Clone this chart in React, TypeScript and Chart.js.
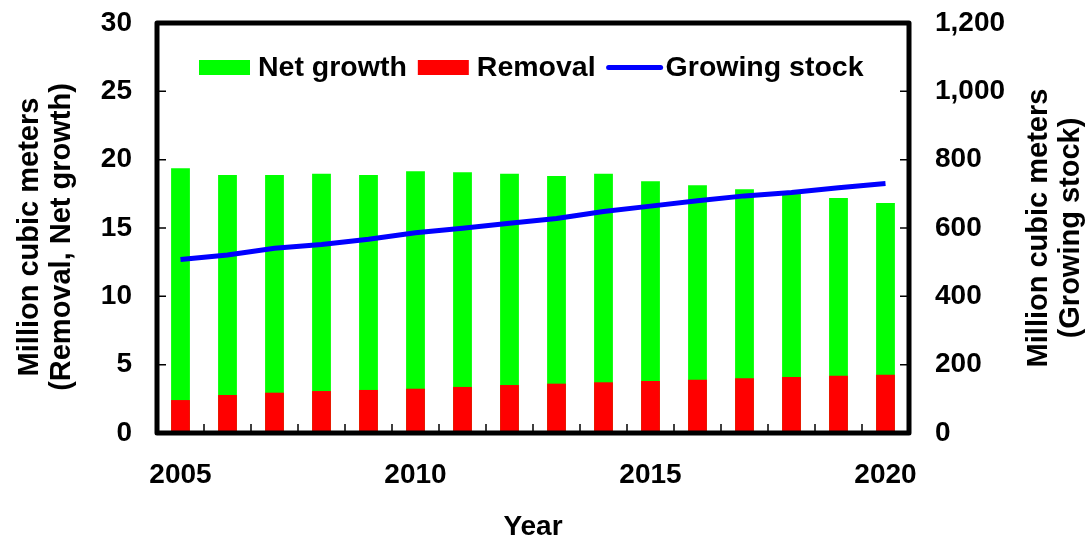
import { useEffect, useRef } from 'react';
import { Chart, registerables } from 'chart.js';

Chart.register(...registerables);

const years = ['2005', '2006', '2007', '2008', '2009', '2010', '2011', '2012', '2013', '2014', '2015', '2016', '2017', '2018', '2019', '2020'];
const labeledYears = ['2005', '2010', '2015', '2020'];
const netGrowth = [19.37, 18.88, 18.88, 18.97, 18.88, 19.15, 19.08, 18.97, 18.8, 18.97, 18.42, 18.13, 17.83, 17.58, 17.19, 16.83];
const removal = [2.41, 2.78, 2.95, 3.07, 3.15, 3.24, 3.37, 3.51, 3.61, 3.71, 3.8, 3.9, 4.0, 4.1, 4.19, 4.27];
const growingStock = [508, 521, 541, 552, 567, 586, 599, 614, 628, 648, 664, 680, 694, 704, 718, 730];
const leftMax = 30;
const leftStep = 5;
const rightMax = 1200;
const rightStep = 200;
const leftTitle = ['Million cubic meters', '(Removal, Net growth)'];
const rightTitle = ['Million cubic meters', '(Growing stock)'];
const xTitle = 'Year';

const FONT = "'Liberation Sans', Arial, sans-serif";

const decorPlugin = {
  id: 'decor',
  afterDatasetsDraw(chart: any) {
    const { ctx, chartArea, scales } = chart;
    const { left, right, top, bottom } = chartArea;
    ctx.save();
    // inward tick marks
    ctx.strokeStyle = '#000';
    ctx.lineWidth = 1.5;
    ctx.beginPath();
    scales.y.ticks.forEach((t: any) => {
      const py = scales.y.getPixelForValue(t.value);
      ctx.moveTo(left, py);
      ctx.lineTo(left + 9, py);
    });
    scales.y1.ticks.forEach((t: any) => {
      const py = scales.y1.getPixelForValue(t.value);
      ctx.moveTo(right, py);
      ctx.lineTo(right - 9, py);
    });
    const n = chart.data.labels.length;
    for (let i = 1; i < n; i++) {
      const px = left + ((right - left) * i) / n;
      ctx.moveTo(px, bottom);
      ctx.lineTo(px, bottom - 9);
    }
    ctx.stroke();
    // frame
    ctx.lineWidth = 5;
    ctx.lineJoin = 'round';
    ctx.strokeRect(left, top, right - left, bottom - top);

    // legend
    const cy = 67.5;
    let x = 199;
    ctx.font = `bold 28.5px ${FONT}`;
    ctx.textBaseline = 'middle';
    ctx.textAlign = 'left';
    chart.data.datasets.forEach((ds: any) => {
      if (ds.type === 'line') {
        ctx.strokeStyle = ds.borderColor;
        ctx.lineWidth = 5;
        ctx.lineCap = 'round';
        ctx.beginPath();
        ctx.moveTo(x + 2, cy);
        ctx.lineTo(x + 54, cy);
        ctx.stroke();
        x += 59;
      } else {
        ctx.fillStyle = ds.backgroundColor;
        ctx.fillRect(x, cy - 7.5, 51, 15);
        x += 59;
      }
      ctx.fillStyle = '#000';
      ctx.fillText(ds.label, x, cy + 1);
      x += ctx.measureText(ds.label).width + 11;
    });

    // axis titles (rotated, reading bottom to top)
    ctx.font = `bold 29px ${FONT}`;
    ctx.fillStyle = '#000';
    ctx.textBaseline = 'middle';
    ctx.textAlign = 'center';
    const lh = 32;
    ctx.save();
    ctx.translate(30, 237);
    ctx.rotate(-Math.PI / 2);
    leftTitle.forEach((s, i) => ctx.fillText(s, 0, i * lh));
    ctx.restore();
    ctx.save();
    ctx.translate(1039, 228);
    ctx.rotate(-Math.PI / 2);
    rightTitle.forEach((s, i) => ctx.fillText(s, 0, i * lh));
    ctx.restore();
    ctx.restore();
  },
};

export default function App() {
  const ref = useRef<HTMLCanvasElement>(null);
  useEffect(() => {
    if (!ref.current) return;
    const tickFont = { family: FONT, size: 28, weight: 'bold' as const };
    const chart = new Chart(ref.current, {
      type: 'bar',
      data: {
        labels: years,
        datasets: [
          {
            type: 'bar',
            label: 'Net growth',
            data: netGrowth,
            backgroundColor: '#00ff00',
            borderWidth: 0,
            yAxisID: 'y',
            order: 2,
            barPercentage: 0.4,
            categoryPercentage: 1,
          },
          {
            type: 'bar',
            label: 'Removal',
            data: removal,
            backgroundColor: '#ff0000',
            borderWidth: 0,
            yAxisID: 'y',
            order: 1,
            barPercentage: 0.4,
            categoryPercentage: 1,
          },
          {
            type: 'line',
            label: 'Growing stock',
            data: growingStock,
            borderColor: '#0000ff',
            backgroundColor: '#0000ff',
            borderWidth: 5,
            pointRadius: 0,
            tension: 0,
            yAxisID: 'y1',
            order: 0,
          } as any,
        ],
      },
      plugins: [decorPlugin],
      options: {
        responsive: false,
        devicePixelRatio: 1,
        animation: false,
        layout: { padding: { top: 23, left: 0, right: 0, bottom: 0 } },
        plugins: { legend: { display: false }, tooltip: { enabled: false } },
        scales: {
          x: {
            stacked: true,
            offset: true,
            grid: { display: false, drawTicks: false },
            border: { display: false },
            ticks: {
              autoSkip: false,
              maxRotation: 0,
              padding: 25,
              color: '#000',
              font: tickFont,
              callback: (_v: any, i: number) => (labeledYears.includes(years[i]) ? years[i] : ''),
            },
            title: { display: true, text: xTitle, color: '#000', font: { family: FONT, size: 28, weight: 'bold' }, padding: { top: 0, bottom: -3 } },
            afterFit: (s: any) => {
              s.height = 108;
              s.paddingLeft = 0;
              s.paddingRight = 0;
            },
          },
          y: {
            position: 'left',
            min: 0,
            max: leftMax,
            grid: { display: false, drawTicks: false },
            border: { display: false },
            ticks: { stepSize: leftStep, padding: 25, color: '#000', font: tickFont },
            afterFit: (s: any) => {
              s.width = 157;
              s.paddingTop = 0;
              s.paddingBottom = 0;
            },
          },
          y1: {
            position: 'right',
            min: 0,
            max: rightMax,
            grid: { display: false, drawTicks: false },
            border: { display: false },
            ticks: {
              stepSize: rightStep,
              padding: 26,
              color: '#000',
              font: tickFont,
              callback: (v: any) => Number(v).toLocaleString('en-US'),
            },
            afterFit: (s: any) => {
              s.width = 182;
              s.paddingTop = 0;
              s.paddingBottom = 0;
            },
          },
        },
      },
    });
    return () => chart.destroy();
  }, []);
  return (
    <div style={{ position: 'absolute', left: 0, top: 0, width: 1091, height: 541 }}>
      <canvas ref={ref} width={1091} height={541} style={{ display: 'block', width: 1091, height: 541 }} />
    </div>
  );
}
